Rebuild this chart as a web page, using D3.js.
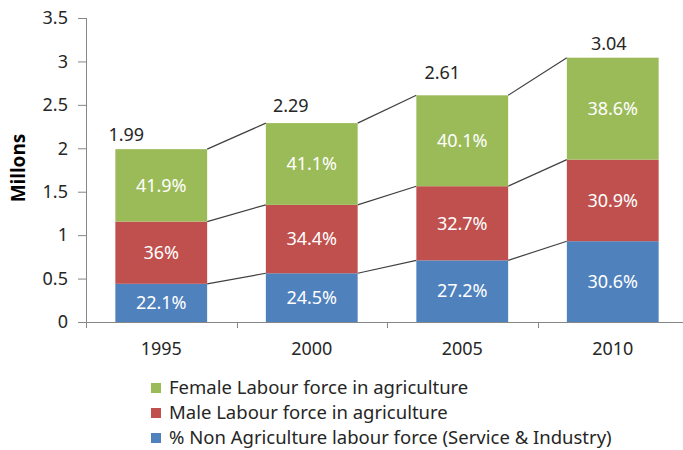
<!DOCTYPE html>
<meta charset="utf-8">
<script src="https://d3js.org/d3.v7.min.js"></script>
<style>
  body { margin: 0; background: #fff; }
  text { font-family: "Noto Sans", sans-serif; }
  .tick text { fill: #262626; font-size: 18px; }
  .domain, .tick line { stroke: #868686; }
</style>
<div id="chart"></div>
<script>

// data
const years = ['1995', '2000', '2005', '2010'];
const totals = [1.99, 2.29, 2.61, 3.04];          // millions
const nonAgriPct = [22.1, 24.5, 27.2, 30.6];
const malePct = [36, 34.4, 32.7, 30.9];
const femalePct = [41.9, 41.1, 40.1, 38.6];
const yTicks = [0, 0.5, 1, 1.5, 2, 2.5, 3, 3.5];

const seriesNames = [
  '% Non Agriculture labour force (Service & Industry)',
  'Male Labour force in agriculture',
  'Female Labour force in agriculture'
];
const colors = ['#4F81BD', '#C0504D', '#9BBB59'];

// total labels were nudged by hand in the original
const totalDx = [-35, -21, -20, -4];
const totalDy = [-8, -11, -16, -8];

const W = 683, H = 450;
const plotLeft = 86, plotRight = 688, plotTop = 18, plotBottom = 322;

const svg = d3.select('#chart').append('svg')
    .attr('width', W)
    .attr('height', H);

const x = d3.scaleBand()
    .domain(years)
    .range([plotLeft, plotRight])
    .paddingInner(0.39)
    .paddingOuter(0.195);

const y = d3.scaleLinear()
    .domain([0, 3.5])
    .range([plotBottom, plotTop]);

// build stacked rows: share of total -> millions
const pcts = [nonAgriPct, malePct, femalePct];
const rows = years.map(function(yr, i) {
  const r = { year: yr };
  pcts.forEach(function(p, k) { r['s' + k] = totals[i] * p[i] / 100; });
  return r;
});
const stack = d3.stack().keys(['s0', 's1', 's2'])(rows);

// axes
svg.append('g')
    .attr('transform', 'translate(' + plotLeft + ',0)')
    .call(d3.axisLeft(y).tickValues(yTicks).tickSize(8).tickPadding(10)
      .tickFormat(function(d) { return d; }))
    .call(function(g) { g.select('.domain').attr('d', 'M0.5,' + plotTop + 'V' + (plotBottom + 6)); });

const xAxis = svg.append('g')
    .attr('transform', 'translate(0,' + plotBottom + ')');
xAxis.append('line')
    .attr('x1', plotLeft - 8).attr('x2', plotRight)
    .attr('y1', 0.5).attr('y2', 0.5)
    .attr('stroke', '#868686');
xAxis.selectAll('.sep')
    .data(years.slice(1))
    .enter().append('line')
    .attr('x1', function(d) { return Math.round(x(d) - x.step() * 0.195) + 0.5; })
    .attr('x2', function(d) { return Math.round(x(d) - x.step() * 0.195) + 0.5; })
    .attr('y1', 0).attr('y2', 6)
    .attr('stroke', '#868686');
xAxis.selectAll('.lbl')
    .data(years)
    .enter().append('text')
    .attr('x', function(d) { return x(d) + x.bandwidth() / 2; })
    .attr('y', 33)
    .attr('text-anchor', 'middle')
    .attr('fill', '#262626')
    .style('font-size', '18px')
    .text(function(d) { return d; });

// connector lines between bars
stack.forEach(function(layer) {
  for (let i = 0; i < years.length - 1; i++) {
    svg.append('line')
        .attr('x1', x(years[i]) + x.bandwidth())
        .attr('y1', y(layer[i][1]))
        .attr('x2', x(years[i + 1]))
        .attr('y2', y(layer[i + 1][1]))
        .attr('stroke', '#404040')
        .attr('stroke-width', 1.2);
  }
});

// bars
const layers = svg.selectAll('.layer')
    .data(stack)
    .enter().append('g')
    .attr('fill', function(d, k) { return colors[k]; });

layers.selectAll('rect')
    .data(function(d) { return d; })
    .enter().append('rect')
    .attr('x', function(d) { return x(d.data.year); })
    .attr('y', function(d) { return y(d[1]); })
    .attr('width', x.bandwidth())
    .attr('height', function(d) { return y(d[0]) - y(d[1]); });

// percentage labels
stack.forEach(function(layer, k) {
  svg.selectAll('.pct' + k)
      .data(layer)
      .enter().append('text')
      .attr('x', function(d) { return x(d.data.year) + x.bandwidth() / 2; })
      .attr('y', function(d) { return (y(d[0]) + y(d[1])) / 2; })
      .attr('dy', '0.35em')
      .attr('text-anchor', 'middle')
      .attr('fill', '#fff')
      .style('font-size', '18px')
      .text(function(d, i) { return pcts[k][i] + '%'; });
});

// totals
svg.selectAll('.total')
    .data(years)
    .enter().append('text')
    .attr('x', function(d, i) { return x(d) + x.bandwidth() / 2 + totalDx[i]; })
    .attr('y', function(d, i) { return y(totals[i]) + totalDy[i]; })
    .attr('text-anchor', 'middle')
    .attr('fill', '#262626')
    .style('font-size', '18px')
    .text(function(d, i) { return totals[i].toFixed(2); });

// y label
svg.append('text')
    .attr('transform', 'translate(25,168) rotate(-90)')
    .attr('text-anchor', 'middle')
    .attr('fill', '#000')
    .style('font-size', '19px')
    .style('font-weight', 'bold')
    .text('Millons');

// legend (female on top)
const legendOrder = [2, 1, 0];
const legend = svg.selectAll('.legend')
    .data(legendOrder)
    .enter().append('g')
    .attr('transform', function(d, i) { return 'translate(151,' + (388 + i * 25) + ')'; });
legend.append('rect')
    .attr('x', 0).attr('y', -5)
    .attr('width', 10).attr('height', 10)
    .attr('fill', function(k) { return colors[k]; });
legend.append('text')
    .attr('x', 18)
    .attr('dy', '0.35em')
    .attr('fill', '#262626')
    .style('font-size', '18.5px')
    .text(function(k) { return seriesNames[k]; });

</script>
</div>
